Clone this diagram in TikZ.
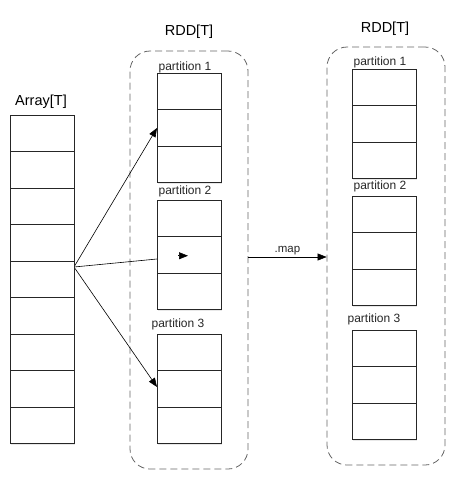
\documentclass[tikz,border=0pt]{standalone}
\usepackage{fontspec}
\setmainfont{Liberation Sans}
\usetikzlibrary{arrows.meta,calc,shadows}
\begin{document}
\begin{tikzpicture}[x=1pt,y=-1pt,
  cell/.style={draw=black!85, fill=white, line width=0.8pt, minimum width=64pt, minimum height=36.5pt, inner sep=0pt, outer sep=0pt,
    drop shadow={shadow xshift=1.2pt, shadow yshift=-1.2pt, opacity=0.18}},
  grp/.style={draw=black!60, dash pattern=on 7pt off 4pt, rounded corners=20pt, line width=0.8pt, minimum width=118pt, minimum height=418pt, inner sep=0pt},
  lbl/.style={font=\fontsize{14.5}{16}\selectfont, inner sep=0pt},
  plbl/.style={font=\fontsize{12}{13}\selectfont, text=black!85, inner sep=0pt},
  arr/.style={-{Triangle[length=9pt,width=7pt]}, line width=0.6pt}]
\useasboundingbox (0,0) rectangle (460,482);
% groups
\node[grp] (lg) at (189,260) {};
\node[grp] (rg) at (386,256) {};
% titles
\node[lbl] (arrlbl) at (41,102) {Array[T]};
\node[lbl] (lrdd) at (189,32) {RDD[T]};
\node[lbl] (rrdd) at (385,29) {RDD[T]};
% partition labels
\node[plbl] (lp1) at (185,67) {partition 1};
\node[plbl] (lp2) at (185,191) {partition 2};
\node[plbl] (lp3) at (178,324) {partition 3};
\node[plbl] (rp1) at (380,62) {partition 1};
\node[plbl] (rp2) at (380,186) {partition 2};
\node[plbl] (rp3) at (374,319) {partition 3};
% source and arrows (drawn beneath the cells)
\coordinate (src) at (74,267);
\draw[arr] (src) -- (157,128);
\draw[line width=0.6pt] (src) -- (157,259);
\draw[arr] (src) -- (157,387);
% array cells
\foreach \i in {1,...,9} \node[cell] (a\i) at (42,{115+36.5*(\i-0.5)}) {};
% left partitions
\foreach \p/\t in {1/73,2/200,3/334}
  \foreach \i in {1,2,3} \node[cell] (l\p-\i) at (189,{\t+36.5*(\i-0.5)}) {};
% right partitions
\foreach \p/\t in {1/69,2/196,3/330}
  \foreach \i in {1,2,3} \node[cell] (r\p-\i) at (384,{\t+36.5*(\i-0.5)}) {};
% arrowhead inside partition 2
\draw[arr] ($(l2-2.center)+(-11,1)$) -- ($(l2-2.center)+(-1,1)$);
% map arrow
\draw[arr] (lg.east |- 0,257) -- node[above=1pt, font=\fontsize{11.5}{12}\selectfont, text=black!85, inner sep=1pt] {.map} (rg.west |- 0,257);
\end{tikzpicture}
\end{document}
